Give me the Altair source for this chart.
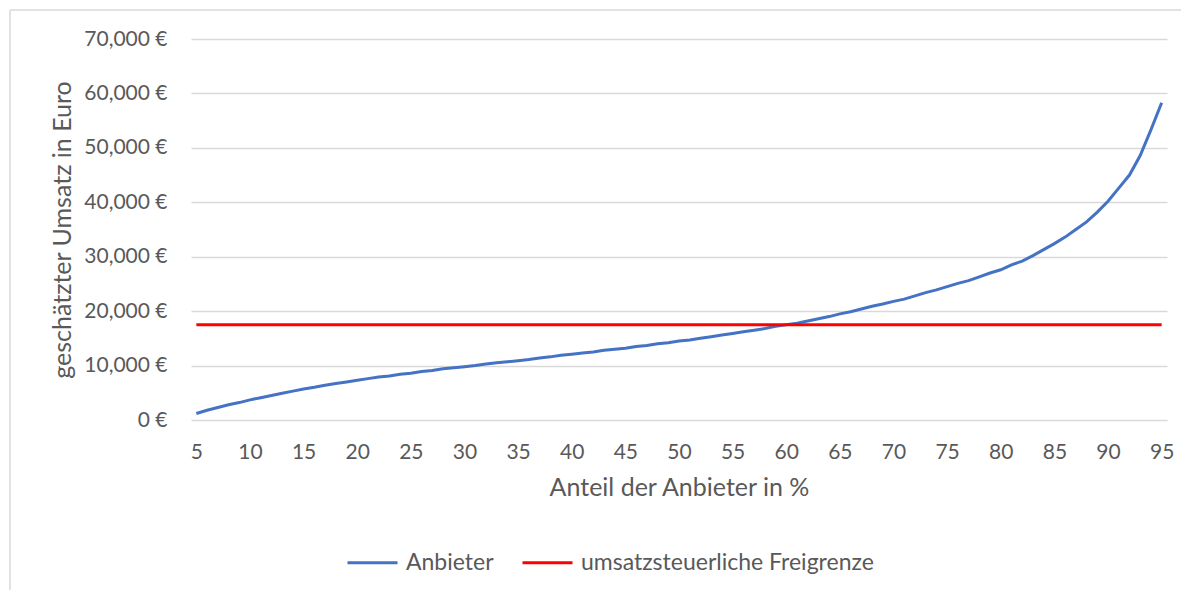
import altair as alt
import pandas as pd

# Data
percent = list(range(5, 96))
anbieter = [
    1200, 1800, 2300, 2800, 3200, 3700, 4100, 4500, 4900, 5300,
    5700, 6000, 6400, 6700, 7000, 7300, 7600, 7900, 8100, 8400,
    8600, 8900, 9100, 9400, 9600, 9800, 10000, 10300, 10500, 10700,
    10900, 11100, 11400, 11600, 11900, 12100, 12300, 12500, 12800, 13000,
    13200, 13500, 13700, 14000, 14200, 14500, 14700, 15000, 15300, 15600,
    15900, 16200, 16500, 16800, 17200, 17500, 17800, 18200, 18600, 19000,
    19500, 19900, 20400, 20900, 21300, 21800, 22200, 22800, 23400, 23900,
    24500, 25100, 25600, 26300, 27000, 27600, 28500, 29200, 30200, 31300,
    32400, 33600, 35000, 36400, 38200, 40200, 42600, 45000, 48600, 53300,
    58300,
]
freigrenze_value = 17500
series_names = ["Anbieter", "umsatzsteuerliche Freigrenze"]
series_colors = ["#4472C4", "#FF0000"]
x_ticks = list(range(5, 96, 5))
y_ticks = list(range(0, 70001, 10000))

rows = []
for p, v in zip(percent, anbieter):
    rows.append({"Anteil": p, "Umsatz": v, "Reihe": series_names[0]})
for p in percent:
    rows.append({"Anteil": p, "Umsatz": freigrenze_value, "Reihe": series_names[1]})
df = pd.DataFrame(rows)

FONT = "Lato"
TXT = "#595959"
W, H = 976, 381

lines = alt.Chart(df).mark_line(strokeWidth=3).encode(
    x=alt.X(
        "Anteil:Q",
        scale=alt.Scale(domain=[4.5, 95.5], nice=False, zero=False),
        axis=alt.Axis(
            values=x_ticks,
            grid=False,
            domain=False,
            ticks=False,
            labelPadding=21,
            title="Anteil der Anbieter in %",
            titlePadding=13,
        ),
    ),
    y=alt.Y(
        "Umsatz:Q",
        scale=alt.Scale(domain=[0, 70000], nice=False),
        axis=alt.Axis(
            values=y_ticks,
            grid=True,
            gridColor="#d9d9d9",
            gridWidth=1.3,
            domain=False,
            ticks=False,
            labelPadding=24,
            labelExpr="format(datum.value, ',') + ' €'",
            title="geschätzter Umsatz in Euro",
            titleX=-129,
            titleY=H / 2,
            titleAlign="center",
            titleBaseline="middle",
            titleAngle=-90,
        ),
    ),
    color=alt.Color(
        "Reihe:N",
        sort=series_names,
        scale=alt.Scale(domain=series_names, range=series_colors),
        legend=alt.Legend(
            title=None,
            orient="none",
            direction="horizontal",
            legendX=155,
            legendY=497,
            symbolType="stroke",
            symbolSize=2500,
            symbolStrokeWidth=3,
            labelOffset=7,
            columnPadding=22,
            labelFont=FONT,
            labelFontSize=23,
            labelColor=TXT,
            labelLimit=0,
            padding=0,
        ),
    ),
)

border_df = pd.DataFrame({"k": [0]})
left_border = alt.Chart(border_df).mark_rule(color="#d9d9d9", strokeWidth=1.5).encode(
    x=alt.value(-181), y=alt.value(-29), y2=alt.value(H + 200)
)
top_border = alt.Chart(border_df).mark_rule(color="#d9d9d9", strokeWidth=1.5).encode(
    x=alt.value(-181), x2=alt.value(W + 100), y=alt.value(-29)
)

chart = (
    alt.layer(left_border, top_border, lines)
    .properties(
        width=W,
        height=H,
        autosize=alt.AutoSizeParams(type="none"),
        padding={"left": 183, "top": 31, "right": 14, "bottom": 170},
    )
    .configure_view(stroke=None)
    .configure_axis(
        labelFont=FONT,
        labelFontSize=21,
        labelColor=TXT,
        titleFont=FONT,
        titleFontSize=25,
        titleColor=TXT,
        titleFontWeight="normal",
    )
)

chart.save("out.html", embed_options={"renderer": "svg", "actions": False})
